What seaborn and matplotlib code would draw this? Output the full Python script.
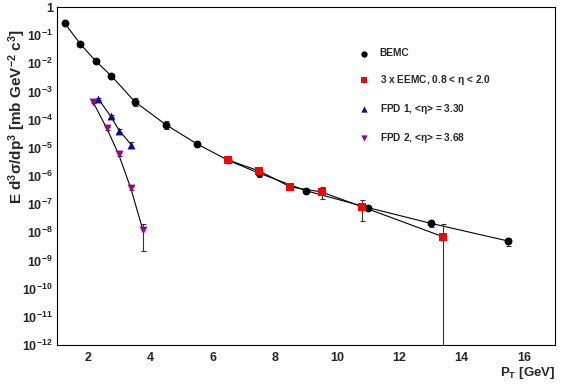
# ==========================================
# PI0 / ETA INVARIANT CROSS SECTION
# ==========================================

import numpy as np
import matplotlib
matplotlib.use('Agg')
import matplotlib.pyplot as plt
import matplotlib.ticker as mticker
import seaborn as sns

# ==========================================
# DATA
# ==========================================

bemc_x = [1.25, 1.75, 2.25, 2.75, 3.5, 4.5, 5.5, 6.5, 7.5, 9.0, 11.0, 13.0, 15.5]
bemc_y = [0.264, 0.0486, 0.0118, 0.00355, 4.35e-4, 6.6e-5, 1.37e-5, 3.6e-6,
          1.25e-6, 3.0e-7, 7.5e-8, 2.1e-8, 4.9e-9]
bemc_err = [0.02, 0.004, 0.0015, 0.0008, 1.3e-4, 2.1e-5, 1.5e-6, 4e-7,
            2.5e-7, 4e-8, 1e-8, 5e-9, 1.5e-9]

eemc_x = [6.5, 7.5, 8.5, 9.5, 10.8, 13.4]
eemc_y = [3.7e-6, 1.5e-6, 4.1e-7, 2.7e-7, 8.1e-8, 7.0e-9]
eemc_err_lo = [4e-7, 6e-7, 6e-8, 1.2e-7, 5.6e-8, 6.99999e-9]
eemc_err_hi = [4e-7, 6e-7, 6e-8, 1.3e-7, 6e-8, 1.3e-8]

fpd1_x = [2.32, 2.72, 3.0, 3.38]
fpd1_y = [5.6e-4, 1.35e-4, 4.1e-5, 1.3e-5]
fpd1_err = [5e-5, 1.5e-5, 5e-6, 3e-6]

fpd2_x = [2.15, 2.6, 2.98, 3.37, 3.76]
fpd2_y = [4.4e-4, 4.9e-5, 5.9e-6, 3.7e-7, 1.2e-8]
fpd2_err_lo = [5e-5, 5e-6, 6e-7, 6e-8, 9.8e-9]
fpd2_err_hi = [5e-5, 5e-6, 6e-7, 6e-8, 7e-9]

labels = ['BEMC',
          r'3 x EEMC, 0.8 < $\eta$ < 2.0',
          r'FPD 1, <$\eta$> = 3.30',
          r'FPD 2, <$\eta$> = 3.68']

# ==========================================
# STYLE
# ==========================================

sns.set_style('white')
plt.rcParams['font.family'] = ['Liberation Sans', 'DejaVu Sans']
plt.rcParams['font.weight'] = 'bold'
plt.rcParams['mathtext.fontset'] = 'custom'
plt.rcParams['mathtext.rm'] = 'Liberation Sans:bold'
plt.rcParams['mathtext.bf'] = 'Liberation Sans:bold'
plt.rcParams['mathtext.it'] = 'Liberation Sans:bold'
plt.rcParams['mathtext.default'] = 'bf'

fig = plt.figure(figsize=(5.67, 3.84), dpi=100)
ax = fig.add_axes([57 / 567, 1 - 345 / 384, 498 / 567, 338 / 384])

# ==========================================
# SERIES
# ==========================================

series = [
    (bemc_x, bemc_y, [bemc_err, bemc_err], 'o', 'black', 32),
    (eemc_x, eemc_y, [eemc_err_lo, eemc_err_hi], 's', 'red', 28),
    (fpd1_x, fpd1_y, [fpd1_err, fpd1_err], '^', '#0a0aa0', 32),
    (fpd2_x, fpd2_y, [fpd2_err_lo, fpd2_err_hi], 'v', '#990099', 32),
]

for i, (x, y, err, mk, col, sz) in enumerate(series):
    sns.lineplot(x=x, y=y, ax=ax, color='black', lw=0.8, sort=False,
                 zorder=2 + i)
    ax.errorbar(x, y, yerr=err, fmt='none', ecolor='#333333', elinewidth=0.8,
                capsize=1.8, capthick=0.8, zorder=2 + i)
    sns.scatterplot(x=x, y=y, ax=ax, marker=mk, color=col, s=sz,
                    edgecolor=col, linewidth=0, label=labels[i], zorder=6 + i)

# ==========================================
# AXES
# ==========================================

ax.set_yscale('log')
ax.set_xlim(1, 17)
ax.set_ylim(1e-12, 1)

ax.xaxis.set_major_locator(mticker.MultipleLocator(2))
ax.xaxis.set_minor_locator(mticker.MultipleLocator(0.5))
ax.yaxis.set_major_locator(mticker.LogLocator(base=10, numticks=20))
ax.yaxis.set_minor_locator(mticker.LogLocator(base=10, subs=np.arange(2, 10),
                                              numticks=20))
ax.yaxis.set_minor_formatter(mticker.NullFormatter())


def ylab(v, pos):
    e = int(round(np.log10(v)))
    if e == 0:
        return '1'
    return r'$10^{%d}$' % e


ax.yaxis.set_major_formatter(mticker.FuncFormatter(ylab))
ax.tick_params(axis='y', which='major', direction='in', length=10,
               width=0.8, labelsize=9, pad=3)
ax.tick_params(axis='y', which='minor', direction='in', length=5, width=0.8)
ax.tick_params(axis='x', which='major', direction='in', length=7,
               width=0.8, labelsize=9, pad=5)
ax.tick_params(axis='x', which='minor', direction='in', length=3.5, width=0.8)
ax.tick_params(top=False, right=False)
for s in ax.spines.values():
    s.set_linewidth(0.8)
    s.set_color('black')

ax.set_xlabel(r'P$_{T}$ [GeV]', fontsize=9.5, fontweight='bold')
ax.xaxis.set_label_coords(1.0, -0.058)
ax.xaxis.label.set_horizontalalignment('right')
ax.set_ylabel(r'E d$^{3}\sigma$/dp$^{3}$ [mb GeV$^{-2}$ c$^{3}$]',
              fontsize=11, fontweight='bold')
ax.yaxis.set_label_coords(-0.058, 0.675)

# ==========================================
# LEGEND
# ==========================================

leg = ax.legend(loc='upper left', bbox_to_anchor=(0.585, 0.905), frameon=False,
                fontsize=7.3, labelspacing=1.47, handletextpad=1.0,
                markerscale=0.8, handlelength=1.2)

fig.savefig('out.png', dpi=100)
